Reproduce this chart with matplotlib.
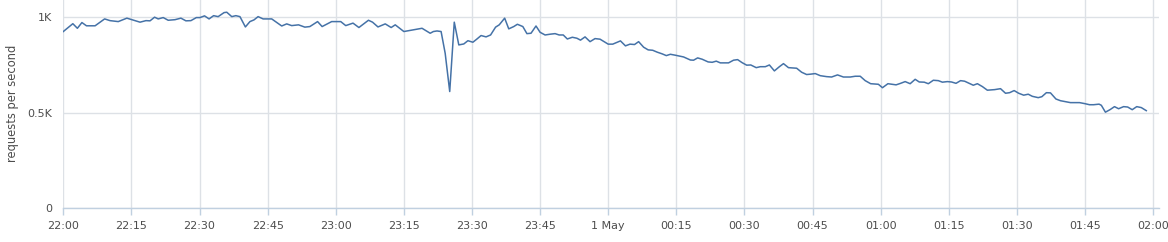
import matplotlib
matplotlib.use("Agg")
import matplotlib.pyplot as plt

# minutes after 22:00
minutes = [
    0, 2.1, 3.1, 4.1, 5.1, 7, 9.1, 10.3, 12.1, 14, 16.9, 18.2, 19.1, 20.1, 20.9, 22, 23.1,
    24.6, 25.9, 27, 28.1, 29.3, 30.1, 31.1, 32.1, 33.1, 34.1, 35.4, 36, 37.1, 38, 38.9, 40.1,
    41.1, 42, 42.9, 44, 45.9, 48.1, 49.2, 50.3, 51.8, 53.2, 54.3, 56, 57, 59.1, 61.1, 62.2,
    63.8, 65.1, 67.2, 68.1, 69.3, 70.9, 72.2, 73.1, 75, 79,
    80.8, 81.5, 82.3, 83.2, 84.1, 85.1, 86.1, 87.1, 88.2, 89.1, 90.2, 91.1, 92, 93.1, 94.1,
    95.2, 96, 97.2, 98.1, 99.2, 100, 101.2, 102.1, 103, 104.1, 105, 106.1, 107.2, 108.3,
    109.2, 110.1, 111, 112.1, 113.1, 113.9, 114.9, 116, 117.1, 118.2, 120, 121,
    122.7, 123.8, 124.8, 125.8, 126.7, 127.8, 128.8, 129.8, 130.8, 131.9, 132.8, 133.7,
    134.8, 136.6, 138.1, 138.8, 139.7, 140.7, 142, 142.9, 143.8, 144.7, 146.5, 147.6, 148.5,
    149.5, 150.5, 151.4, 152.6, 153.5, 154.6, 155.5, 156.6, 157.7, 158.6, 159.7,
    161.5, 162.6, 163.7, 164.6, 165.6, 166.7, 168.1, 169.2, 170.5, 171.8, 173.3, 174.4,
    175.5, 176.6, 177.8, 179.5, 180.4, 181.6, 183.4, 184.4, 185.4, 186.5, 187.6, 188.5,
    189.6, 190.5, 191.6, 192.7, 193.6, 194.7, 195.6, 196.6, 197.6, 198.5, 199.5,
    200.4, 201.3, 202.4, 203.5, 205.1, 206.4, 207.5, 208.4, 209.4, 210.4, 211.5, 212.5,
    213.4, 214.7, 215.5, 216.5, 217.4, 218.6, 219.6, 220.7, 221.8, 222.7, 223.8, 224.9,
    226, 226.9, 228.1, 228.6, 229.5, 230.5, 231.5, 232.4, 233.5, 234.4, 235.4, 236.4,
    237.4, 238.5,
]
requests = [
    925, 966, 942, 972, 955, 955, 991, 982, 977, 995, 974, 982, 981, 1000, 991, 998, 984,
    987, 995, 981, 982, 998, 998, 1007, 991, 1008, 1003, 1024, 1026, 1003, 1008, 1003, 949,
    977, 986, 1003, 991, 991, 954, 965, 956, 960, 948, 951, 977, 951, 977, 977, 956,
    969, 946, 984, 974, 949, 965, 946, 960, 925, 942,
    916, 925, 928, 925, 811, 611, 974, 855, 860, 877, 869, 886, 904, 897, 907,
    948, 960, 995, 939, 951, 963, 951, 914, 916, 954, 921, 907, 911, 914,
    907, 907, 886, 895, 890, 880, 897, 872, 888, 885, 859, 859,
    876, 850, 859, 857, 872, 843, 829, 827, 817, 808, 799, 806,
    801, 792, 776, 775, 787, 780, 766, 764, 770, 761, 761, 775, 778,
    762, 749, 750, 736, 741, 741, 750, 719, 741, 757, 736,
    733, 712, 700, 702, 705, 694, 689, 687, 698, 687, 687, 691,
    691, 668, 652, 649, 631, 652, 646, 654, 663, 652, 675, 661,
    660, 652, 670, 668, 660, 663, 661, 654, 668, 665, 654,
    644, 652, 637, 618, 621, 626, 602, 605, 616, 602, 592, 597,
    586, 579, 584, 605, 604, 572, 563, 558, 553, 553, 553, 548,
    542, 542, 545, 539, 503, 516, 532, 521, 532, 530, 516, 532,
    527, 511,
]

tick_minutes = list(range(0, 241, 15))
tick_labels = ["22:00", "22:15", "22:30", "22:45", "23:00", "23:15", "23:30", "23:45",
               "1 May", "00:15", "00:30", "00:45", "01:00", "01:15", "01:30", "01:45", "02:00"]
y_ticks = [0, 500, 1000]
y_labels = ["0", "0.5K", "1K"]

fig = plt.figure(figsize=(11.68, 2.42), dpi=100)
ax = fig.add_axes([63.3 / 1168, 1 - 208.3 / 242, (1159 - 63.3) / 1168, 208.3 / 242])

ax.plot(minutes, requests, color="#4572A7", linewidth=1.1, solid_joinstyle="round")

ax.set_xlim(0, 241.3)
ax.set_ylim(0, 1090)

ax.set_xticks(tick_minutes)
ax.set_xticklabels(tick_labels)
ax.set_yticks(y_ticks)
ax.set_yticklabels(y_labels)

ax.grid(True, color="#dde1e6", linewidth=1.0)
ax.set_axisbelow(True)
for side in ["top", "right", "left"]:
    ax.spines[side].set_visible(False)
ax.spines["bottom"].set_color("#c0d0e0")
ax.spines["bottom"].set_linewidth(1.0)

ax.tick_params(axis="x", colors="#c0d0e0", length=5, width=1, labelcolor="#4d4d4d",
               labelsize=8, pad=4)
ax.tick_params(axis="y", length=0, labelcolor="#4d4d4d", labelsize=8, pad=8)

ax.set_ylabel("requests per second", color="#4d4d4d", fontsize=8.3)
ax.yaxis.set_label_coords(-0.040, 0.505)

fig.savefig("out.png", dpi=100)
